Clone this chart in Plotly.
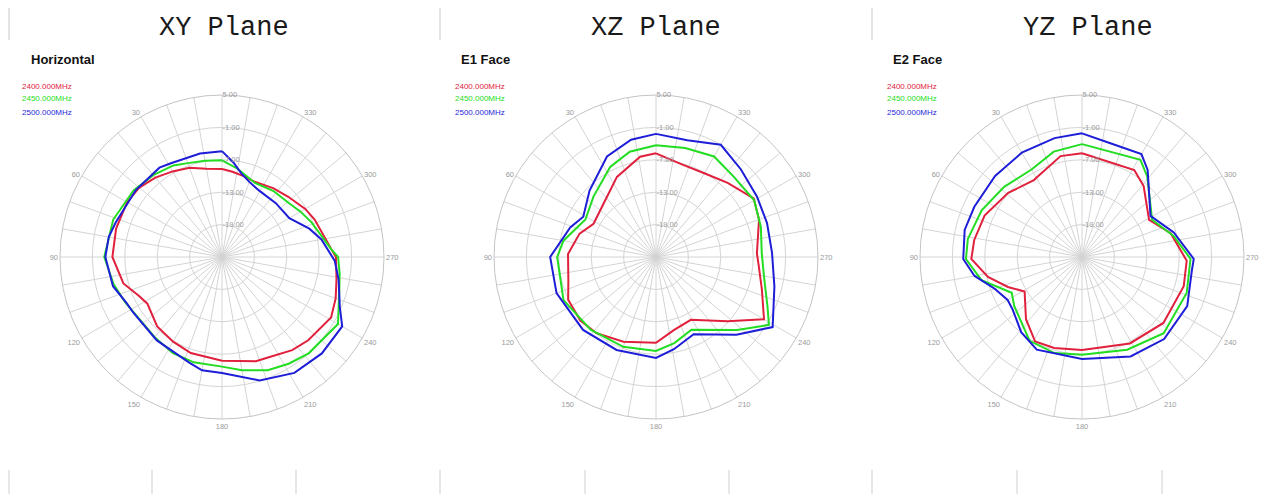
import plotly.graph_objects as go

# ---------------- data (gain in dB vs angle in degrees) ----------------
freq_labels = ["2400.000MHz", "2450.000MHz", "2500.000MHz"]
panel_titles = ["XY Plane", "XZ Plane", "YZ Plane"]
panel_subtitles = ["Horizontal", "E1 Face", "E2 Face"]

radial_tickvals = [-19, -13, -7, -1, 5]
radial_ticktext = ["-19.00", "-13.00", "-7.00", "-1.00", "5.00"]
angular_labels = [30, 60, 90, 120, 150, 180, 210, 240, 270, 300, 330]

# XY plane
xy_red_theta = [0, 10, 20, 30, 40, 50, 60, 75, 90, 105, 115, 122, 137, 150, 162, 180, 198, 205, 217, 226,
                241, 250, 259, 270, 274, 292, 300, 312, 323, 336, 345, 353]
xy_red_r = [-8.7, -8.4, -7.4, -6.7, -5.8, -5.0, -4.7, -4.7, -4.7, -6.1, -8.0, -8.7, -7.4, -6.9, -6.3, -5.8,
            -4.7, -4.5, -3.4, -2.8, -1.9, -2.6, -3.4, -3.9, -4.7, -6.5, -7.2, -8.4, -9.1, -9.8, -9.5, -9.1]
xy_green_theta = [0, 10, 20, 28, 40, 53, 71, 90, 104, 115, 125, 140, 153, 165, 180, 190, 202, 212, 222, 240,
                  254, 262, 270, 274, 291, 300, 309, 322, 336, 350]
xy_green_r = [-7.1, -6.9, -6.5, -5.8, -5.2, -4.5, -3.7, -3.2, -4.3, -5.2, -5.8, -5.6, -5.0, -4.8, -4.7, -3.7,
              -2.4, -1.7, -1.0, -0.2, -2.4, -3.0, -3.5, -4.7, -7.2, -8.2, -9.1, -9.5, -10.0, -8.4]
xy_blue_theta = [0, 12, 29, 35, 52, 72, 80, 90, 105, 116, 122, 142, 163, 170, 180, 197, 212, 226, 240, 247,
                 259, 268, 280, 288, 300, 315, 331, 340, 347, 353]
xy_blue_r = [-5.4, -5.4, -5.2, -4.8, -4.8, -4.3, -3.7, -3.4, -4.1, -5.4, -5.6, -5.4, -4.5, -3.7, -3.5, -1.1,
             0.3, 0.7, 0.7, -1.3, -3.0, -4.1, -6.3, -8.0, -10.6, -10.9, -10.9, -10.2, -9.1, -7.4]

# XZ plane
xz_red_theta = [0, 9, 26, 44, 62, 73, 88, 105, 116, 130, 142, 159, 180, 194, 209, 228, 240, 253, 265, 272,
                290, 301, 316, 330, 344]
xz_red_r = [-5.8, -6.2, -8.5, -11.1, -11.9, -10.2, -8.7, -8.2, -6.9, -6.7, -7.1, -8.2, -9.1, -11.1, -11.7,
            -7.2, -1.9, -4.5, -5.9, -6.3, -4.7, -3.9, -5.9, -7.1, -7.2]
xz_green_theta = [0, 14, 27, 46, 62, 80, 90, 115, 138, 160, 180, 192, 206, 228, 239, 246, 260, 272, 286, 300,
                  316, 330, 345]
xz_green_r = [-4.3, -4.9, -6.3, -8.9, -10.2, -7.6, -6.7, -6.1, -6.9, -7.3, -7.6, -8.7, -10.0, -4.8, -0.6,
              -2.4, -4.7, -5.4, -4.8, -4.0, -4.3, -3.5, -4.1]
xz_blue_theta = [0, 12, 26, 45, 61, 71, 90, 110, 135, 157, 180, 191, 206, 226, 239, 256, 272, 287, 301, 316,
                 330, 345]
xz_blue_r = [-2.2, -2.8, -4.3, -7.6, -9.6, -8.2, -5.4, -5.4, -5.9, -6.3, -6.3, -7.6, -9.1, -4.3, 0.2, -2.4,
             -3.5, -3.5, -3.2, -2.4, -1.0, -2.6]

# YZ plane
yz_red_theta = [0, 12, 29, 32, 49, 67, 81, 91, 102, 112, 121, 138, 151, 163, 180, 209, 231, 254, 268, 285,
                299, 319, 329]
yz_red_r = [-5.8, -5.9, -8.0, -8.2, -6.9, -5.4, -4.8, -4.5, -7.2, -10.2, -12.6, -9.5, -7.1, -7.4, -7.8, -6.7,
            -5.6, -5.4, -5.6, -8.0, -10.8, -7.6, -6.2]
yz_green_theta = [0, 15, 30, 48, 65, 81, 91, 103, 117, 126, 148, 164, 180, 206, 227, 251, 269, 283, 298, 321,
                  329]
yz_green_r = [-4.1, -4.8, -6.3, -5.6, -4.5, -3.6, -3.5, -5.9, -10.4, -9.5, -6.7, -6.5, -6.9, -5.9, -4.3, -4.5,
              -4.9, -7.6, -10.3, -5.8, -4.0]
yz_blue_theta = [0, 13, 30, 47, 65, 77, 91, 100, 110, 120, 127, 141, 154, 180, 206, 225, 245, 263, 269, 285,
                 301, 323, 330, 346]
yz_blue_r = [-2.1, -2.4, -2.7, -3.0, -3.0, -2.7, -3.0, -4.8, -7.8, -9.1, -8.9, -7.1, -5.9, -6.1, -4.5, -3.5,
             -3.5, -4.5, -4.3, -7.4, -10.2, -4.8, -3.0, -3.3]

# ---------------- styling ----------------
OFF = 8                      # page body margin of the browser
W, H = 1267 - OFF, 494 - OFF
colors = ["#e0203c", "#22dd22", "#1e1ed8"]
grid_col = "#d4d4d4"
centers_x = [222, 656, 1082]   # page pixels
center_y = 257
R = 162


def px(x):
    return (x - OFF) / W


def py(y):
    return 1 - (y - OFF) / H


panels = [
    [(xy_red_theta, xy_red_r), (xy_green_theta, xy_green_r), (xy_blue_theta, xy_blue_r)],
    [(xz_red_theta, xz_red_r), (xz_green_theta, xz_green_r), (xz_blue_theta, xz_blue_r)],
    [(yz_red_theta, yz_red_r), (yz_green_theta, yz_green_r), (yz_blue_theta, yz_blue_r)],
]

fig = go.Figure()
layout_polars = {}
for i, series in enumerate(panels):
    pname = "polar" if i == 0 else f"polar{i+1}"
    for j, (th, rr) in enumerate(series):
        fig.add_trace(go.Scatterpolar(
            theta=list(th) + [th[0]], r=list(rr) + [rr[0]],
            mode="lines", line=dict(color=colors[j], width=2),
            name=freq_labels[j], showlegend=False, subplot=pname,
        ))
    cx = centers_x[i]
    layout_polars[pname] = dict(
        domain=dict(x=[px(cx - R), px(cx + R)],
                    y=[py(center_y + R), py(center_y - R)]),
        bgcolor="white",
        angularaxis=dict(
            rotation=90, direction="counterclockwise",
            tickmode="array",
            tickvals=list(range(0, 360, 10)),
            ticktext=[str(a) if a in angular_labels else "" for a in range(0, 360, 10)],
            showgrid=True, gridcolor=grid_col, gridwidth=1,
            showline=True, linecolor="#c4c4c4", linewidth=1,
            ticks="",
            tickfont=dict(family="Liberation Sans, Arial", size=7.5, color="#9a9a9a"),
        ),
        radialaxis=dict(
            range=[-25, 5], tickmode="array",
            tickvals=radial_tickvals, ticktext=radial_ticktext,
            angle=90, tickangle=90, showline=False, ticks="",
            showgrid=True, gridcolor=grid_col, gridwidth=1,
            tickfont=dict(family="Liberation Sans, Arial", size=7.5, color="#9a9a9a"),
        ),
    )

annotations = []
sub_x = [29, 459, 891]
leg_x = [20, 453, 885]
title_x = [224, 656, 1088]
for i in range(3):
    annotations.append(dict(
        text=panel_titles[i], x=px(title_x[i]), y=py(28), xref="paper", yref="paper",
        xanchor="center", yanchor="middle", showarrow=False,
        font=dict(family="Liberation Mono, DejaVu Sans Mono, monospace", size=27, color="#1a1a1a"),
    ))
    annotations.append(dict(
        text="<b>" + panel_subtitles[i] + "</b>", x=px(sub_x[i]), y=py(60),
        xref="paper", yref="paper", xanchor="left", yanchor="middle", showarrow=False,
        font=dict(family="Liberation Sans, Arial", size=13, color="#111111"),
    ))
    for j in range(3):
        annotations.append(dict(
            text=freq_labels[j], x=px(leg_x[i]), y=py(86 + 13 * j),
            xref="paper", yref="paper", xanchor="left", yanchor="middle", showarrow=False,
            font=dict(family="Liberation Sans, Arial", size=8, color=colors[j]),
        ))

shapes = []
for xs in [9, 440, 872]:
    shapes.append(dict(type="line", xref="paper", yref="paper",
                       x0=px(xs), x1=px(xs), y0=py(8), y1=py(40),
                       line=dict(color="#c8c8c8", width=1)))
for xs in [9, 152, 296, 440, 585, 729, 872, 1017, 1162]:
    shapes.append(dict(type="line", xref="paper", yref="paper",
                       x0=px(xs), x1=px(xs), y0=py(470), y1=0,
                       line=dict(color="#cfcfcf", width=1)))

fig.update_layout(
    width=W, height=H,
    margin=dict(l=0, r=0, t=0, b=0),
    paper_bgcolor="white", plot_bgcolor="white",
    showlegend=False,
    annotations=annotations, shapes=shapes,
    **layout_polars,
)

fig.write_html("out.html")
